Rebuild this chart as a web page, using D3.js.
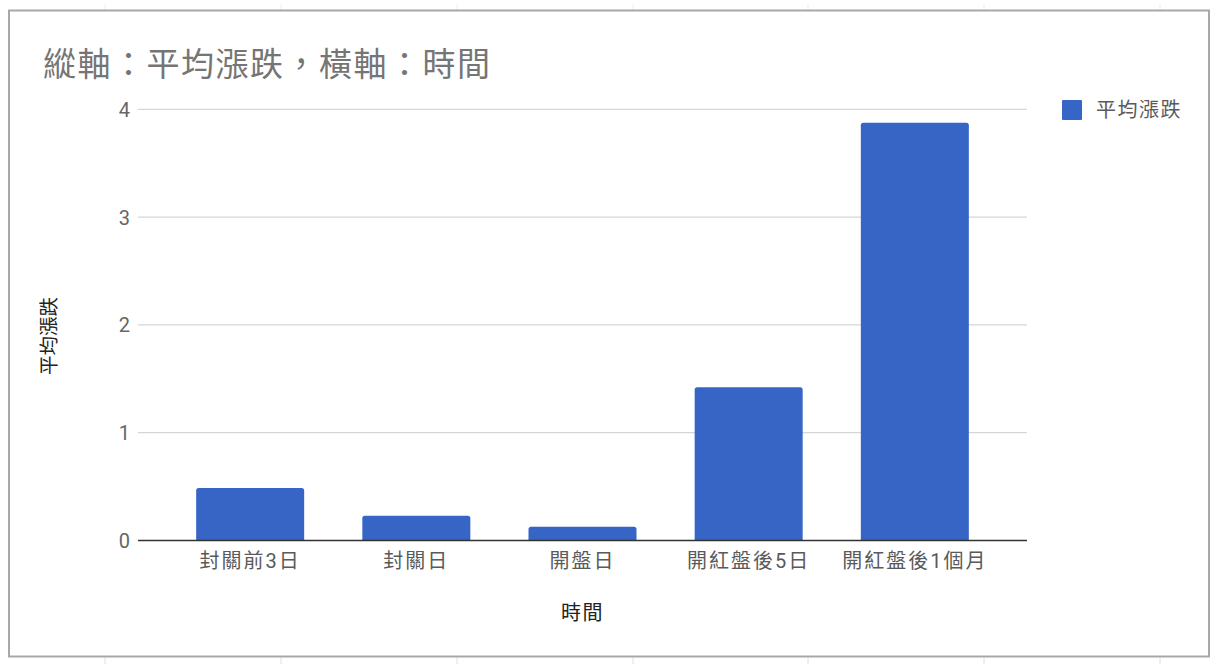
<!DOCTYPE html>
<html>
<head>
<meta charset="utf-8">
<script src="https://d3js.org/d3.v7.min.js"></script>
<title>平均漲跌</title>
<style>
body { margin: 0; background: #fff; }
text { font-family: Roboto, "Noto Sans CJK TC", sans-serif; }
</style>
</head>
<body>
<svg id="canvas" width="1216" height="666"></svg>
<script>
// data
var categories = ["封關前3日", "封關日", "開盤日", "開紅盤後5日", "開紅盤後1個月"];
var values = [0.487, 0.23, 0.128, 1.421, 3.876];
var yTicks = [0, 1, 2, 3, 4];
var seriesName = "平均漲跌";
var chartTitle = "縱軸：平均漲跌，橫軸：時間";
var xTitle = "時間";
var yTitle = "平均漲跌";

var barColor = "#3765c6";
var svg = d3.select("#canvas");

// sheet grid marks peeking outside the chart frame
var sheetCols = [105, 281, 457, 633, 808, 984, 1160];
svg.append("g").selectAll("line").data(sheetCols).enter().append("line")
   .attr("x1", d => d).attr("x2", d => d)
   .attr("y1", 657).attr("y2", 664)
   .attr("stroke", "#e0e0e0").attr("stroke-width", 1);
svg.append("g").selectAll("line").data(sheetCols).enter().append("line")
   .attr("x1", d => d).attr("x2", d => d)
   .attr("y1", 4).attr("y2", 10)
   .attr("stroke", "#ececec").attr("stroke-width", 1);

// chart frame
svg.append("rect")
   .attr("x", 9).attr("y", 10.5)
   .attr("width", 1200).attr("height", 646)
   .attr("fill", "#fff")
   .attr("stroke", "#a8a8a8").attr("stroke-width", 2);

var plotLeft = 138, plotRight = 1027, plotTop = 109.3, plotBottom = 540.5;

var x = d3.scaleBand()
   .domain(categories)
   .range([plotLeft, plotRight])
   .paddingInner(0.35)
   .paddingOuter(0.35);

var y = d3.scaleLinear()
   .domain([0, 4])
   .range([plotBottom, plotTop]);

// gridlines
svg.append("g").selectAll("line").data(yTicks.filter(d => d > 0)).enter().append("line")
   .attr("x1", plotLeft).attr("x2", plotRight)
   .attr("y1", d => y(d)).attr("y2", d => y(d))
   .attr("stroke", "#cccccc").attr("stroke-width", 1);

// y tick labels
var yAxis = d3.axisLeft(y).tickValues(yTicks).tickSize(0).tickPadding(0).tickFormat(d3.format("d"));
var gy = svg.append("g").attr("transform", "translate(130,0)").call(yAxis);
gy.select(".domain").remove();
gy.selectAll("text")
   .attr("font-size", 20).attr("fill", "#666")
   .attr("font-family", "Roboto, sans-serif")
   .attr("dy", "0.35em");

// bars with rounded tops
function barPath(d, i) {
   var x0 = x(categories[i]), w = x.bandwidth();
   var y0 = y(d), r = 2.5;
   return "M" + x0 + "," + plotBottom +
          "V" + (y0 + r) +
          "Q" + x0 + "," + y0 + " " + (x0 + r) + "," + y0 +
          "H" + (x0 + w - r) +
          "Q" + (x0 + w) + "," + y0 + " " + (x0 + w) + "," + (y0 + r) +
          "V" + plotBottom + "Z";
}
svg.append("g").selectAll("path").data(values).enter().append("path")
   .attr("d", barPath)
   .attr("fill", barColor);

// baseline + x tick labels
var xAxis = d3.axisBottom(x).tickSize(0).tickPadding(0);
var gx = svg.append("g").attr("transform", "translate(0," + plotBottom + ")").call(xAxis);
gx.select(".domain").attr("stroke", "#333").attr("stroke-width", 1.5)
   .attr("d", "M" + plotLeft + ",0H" + plotRight);
gx.selectAll("text")
   .attr("y", 20).attr("dy", "0")
   .attr("dominant-baseline", "central")
   .attr("font-size", 20).attr("letter-spacing", 2)
   .attr("fill", "#5a5a5a");

// titles
svg.append("text")
   .attr("x", 43).attr("y", 64)
   .attr("dominant-baseline", "central")
   .attr("font-size", 33).attr("letter-spacing", 1.5)
   .attr("fill", "#757575")
   .text(chartTitle);

svg.append("text")
   .attr("x", (plotLeft + plotRight) / 2).attr("y", 613)
   .attr("text-anchor", "middle").attr("dominant-baseline", "central")
   .attr("font-size", 20).attr("letter-spacing", 1.5)
   .attr("fill", "#222")
   .text(xTitle);

svg.append("text")
   .attr("transform", "translate(49,336) rotate(-90)")
   .attr("text-anchor", "middle").attr("dominant-baseline", "central")
   .attr("font-size", 19.5).attr("fill", "#222")
   .text(yTitle);

// legend
var lg = svg.append("g").attr("transform", "translate(1062,100)");
lg.append("rect").attr("width", 20).attr("height", 20).attr("rx", 1).attr("fill", barColor);
lg.append("text")
   .attr("x", 34).attr("y", 10)
   .attr("dominant-baseline", "central")
   .attr("font-size", 20).attr("letter-spacing", 1.5)
   .attr("fill", "#5a5a5a")
   .text(seriesName);
</script>
</body>
</html>
